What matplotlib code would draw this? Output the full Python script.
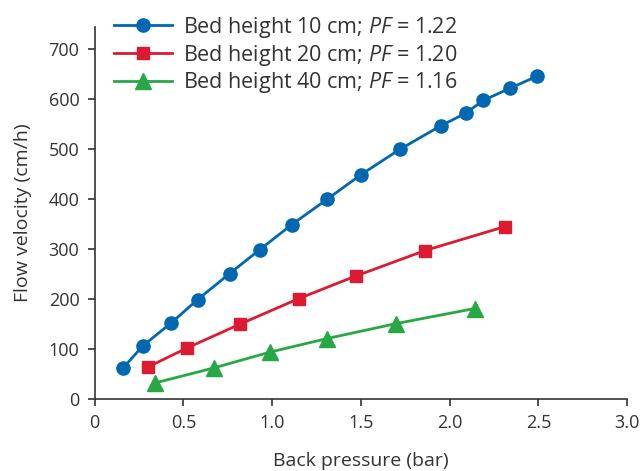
import matplotlib
matplotlib.use("Agg")
import matplotlib.pyplot as plt

# back pressure (bar) vs flow velocity (cm/h) per bed height
p10 = [0.16, 0.27, 0.43, 0.58, 0.76, 0.93, 1.11, 1.31, 1.50, 1.72, 1.95, 2.09, 2.19, 2.34, 2.49]
v10 = [62, 106, 152, 199, 251, 299, 349, 400, 449, 500, 547, 572, 598, 622, 646]
p20 = [0.30, 0.52, 0.82, 1.15, 1.47, 1.86, 2.31]
v20 = [64, 102, 150, 201, 246, 297, 345]
p40 = [0.34, 0.67, 0.99, 1.31, 1.70, 2.14]
v40 = [32, 62, 94, 121, 151, 181]

labels = ["Bed height 10 cm; $PF$ = 1.22",
          "Bed height 20 cm; $PF$ = 1.20",
          "Bed height 40 cm; $PF$ = 1.16"]
xticks = [0, 0.5, 1.0, 1.5, 2.0, 2.5, 3.0]
xticklabels = ["0", "0.5", "1.0", "1.5", "2.0", "2.5", "3.0"]
yticks = [0, 100, 200, 300, 400, 500, 600, 700]

plt.rcParams.update({
    "font.family": "Open Sans",
    "mathtext.fontset": "custom",
    "mathtext.rm": "Open Sans",
    "mathtext.it": "Open Sans:italic",
    "text.color": "#333333",
    "axes.labelcolor": "#333333",
    "xtick.color": "#333333",
    "ytick.color": "#333333",
})

fig = plt.figure(figsize=(6.4, 4.71), dpi=100)
ax = fig.add_axes([0.148, 0.153, 0.832, 0.79])

ax.plot(p10, v10, color="#0067b1", lw=2, marker="o", ms=9.5, label=labels[0])
ax.plot(p20, v20, color="#dc1a32", lw=2, marker="s", ms=9, label=labels[1])
ax.plot(p40, v40, color="#27a845", lw=2, marker="^", ms=11, label=labels[2])

ax.set_xlim(0, 3.0)
ax.set_ylim(0, 745)
ax.set_xticks(xticks)
ax.set_xticklabels(xticklabels)
ax.set_yticks(yticks)
ax.tick_params(direction="out", length=5, width=1.2, labelsize=13, pad=6)
for s in ["top", "right"]:
    ax.spines[s].set_visible(False)
for s in ["left", "bottom"]:
    ax.spines[s].set_color("#333333")
    ax.spines[s].set_linewidth(1.2)

ax.set_xlabel("Back pressure (bar)", fontsize=14, labelpad=14)
ax.set_ylabel("Flow velocity (cm/h)", fontsize=14, labelpad=12)

ax.legend(loc="upper left", bbox_to_anchor=(0.02, 1.055), frameon=False,
          fontsize=15.5, handlelength=2.7, labelspacing=0.12, handletextpad=0.5,
          borderaxespad=0)

fig.savefig("out.png", dpi=100)
